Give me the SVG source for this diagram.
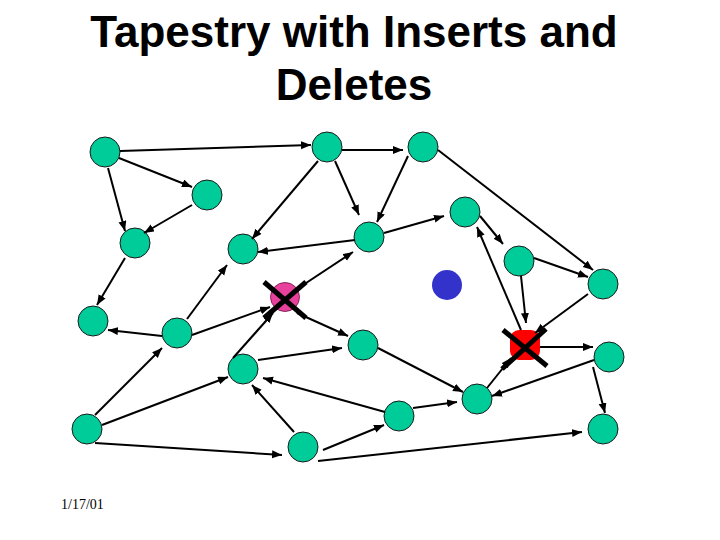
<svg xmlns="http://www.w3.org/2000/svg" width="720" height="540" viewBox="0 0 720 540">
<defs>
<marker id="ah" markerUnits="userSpaceOnUse" markerWidth="11" markerHeight="9" refX="10" refY="4" orient="auto">
<path d="M0,0 L10,4 L0,8 z" fill="#000"/>
</marker>
<style>
.n{fill:#00CC99;stroke:#1a1a1a;stroke-width:1}
.e line{stroke:#000;stroke-width:2;marker-end:url(#ah)}
.x{stroke:#000;stroke-width:5}
.t{font-family:"Liberation Sans",Arial,sans-serif;font-size:44px;font-weight:bold;fill:#000}
</style>
</defs>
<rect width="720" height="540" fill="#fff"/>
<text class="t" x="354" y="47" text-anchor="middle">Tapestry with Inserts and</text>
<text class="t" x="354" y="100" text-anchor="middle">Deletes</text>
<text x="61" y="509" font-family="'Liberation Serif','Times New Roman',serif" font-size="14" fill="#000">1/17/01</text>

<g id="nodes">
<g id="A"><circle class="n" cx="105" cy="152" r="15"/></g>
<g id="B"><circle class="n" cx="207" cy="195" r="15"/></g>
<g id="C"><circle class="n" cx="135" cy="243" r="15"/></g>
<g id="D"><circle class="n" cx="327" cy="147" r="15"/></g>
<g id="E"><circle class="n" cx="423" cy="147" r="15"/></g>
<g id="F"><circle class="n" cx="243" cy="249" r="15"/></g>
<g id="G"><circle class="n" cx="369" cy="237" r="15"/></g>
<g id="H"><circle class="n" cx="465" cy="212" r="15"/></g>
<g id="I"><circle class="n" cx="519" cy="261" r="15"/></g>
<g id="J"><circle class="n" cx="603" cy="284" r="15"/></g>
<g id="Blue"><circle cx="447" cy="285" r="15" fill="#3333CC"/></g>
<g id="L"><circle class="n" cx="93" cy="321" r="15"/></g>
<g id="M"><circle class="n" cx="177" cy="333" r="15"/></g>
<g id="N"><circle class="n" cx="363" cy="345" r="15"/></g>
<g id="P"><circle class="n" cx="609" cy="357" r="15"/></g>
<g id="Q"><circle class="n" cx="243" cy="369" r="15"/></g>
<g id="R"><circle class="n" cx="87" cy="429" r="15"/></g>
<g id="S"><circle class="n" cx="399" cy="416" r="15"/></g>
<g id="T"><circle class="n" cx="477" cy="399" r="15"/></g>
<g id="U"><circle class="n" cx="303" cy="447" r="15"/></g>
<g id="V"><circle class="n" cx="603" cy="429" r="15"/></g>
<g id="K"><circle cx="285" cy="297" r="14.5" fill="#E8419C" stroke="#6a1040" stroke-width="0.8"/></g>
<g id="O"><rect x="510" y="330" width="30" height="30" rx="9" fill="#FF0000"/></g>
</g>

<g id="connectors" class="e">
<line x1="120" y1="151" x2="311" y2="145"/>
<line x1="119" y1="158" x2="192" y2="187"/>
<line x1="108" y1="168" x2="125" y2="231"/>
<line x1="192" y1="205" x2="144" y2="233"/>
<line x1="318" y1="161" x2="252" y2="239"/>
<line x1="335" y1="161" x2="359" y2="215"/>
<line x1="342" y1="150" x2="403" y2="150"/>
<line x1="408" y1="156" x2="377" y2="222"/>
<line x1="438" y1="150" x2="593" y2="270"/>
<line x1="355" y1="240" x2="258" y2="252"/>
<line x1="384" y1="233" x2="444" y2="216"/>
<line x1="480" y1="216" x2="503" y2="244"/>
<line x1="534" y1="258" x2="588" y2="277"/>
<line x1="521" y1="276" x2="526" y2="323"/>
<line x1="588" y1="294" x2="535" y2="333"/>
<line x1="521" y1="330" x2="477" y2="227"/>
<line x1="540" y1="347" x2="593" y2="347"/>
<line x1="487" y1="388" x2="511" y2="358"/>
<line x1="594" y1="360" x2="492" y2="396"/>
<line x1="593" y1="367" x2="605" y2="413"/>
<line x1="318" y1="461" x2="582" y2="432"/>
<line x1="125" y1="258" x2="97" y2="305"/>
<line x1="187" y1="319" x2="227" y2="265"/>
<line x1="162" y1="336" x2="108" y2="330"/>
<line x1="192" y1="335" x2="270" y2="307"/>
<line x1="233" y1="358" x2="273" y2="313"/>
<line x1="297" y1="289" x2="353" y2="252"/>
<line x1="297" y1="313" x2="348" y2="336"/>
<line x1="258" y1="360" x2="342" y2="348"/>
<line x1="95" y1="415" x2="162" y2="348"/>
<line x1="102" y1="425" x2="228" y2="377"/>
<line x1="95" y1="443" x2="282" y2="455"/>
<line x1="385" y1="412" x2="263" y2="378"/>
<line x1="294" y1="432" x2="252" y2="385"/>
<line x1="323" y1="450" x2="384" y2="425"/>
<line x1="413" y1="408" x2="457" y2="402"/>
<line x1="378" y1="348" x2="463" y2="392"/>
</g>

<g id="crosses">
<line class="x" x1="264" y1="282" x2="306" y2="318"/>
<line class="x" x1="306" y1="282" x2="264" y2="318"/>
<line class="x" x1="503" y1="330" x2="547" y2="366"/>
<line class="x" x1="546" y1="329" x2="502" y2="369"/>
</g>
</svg>
